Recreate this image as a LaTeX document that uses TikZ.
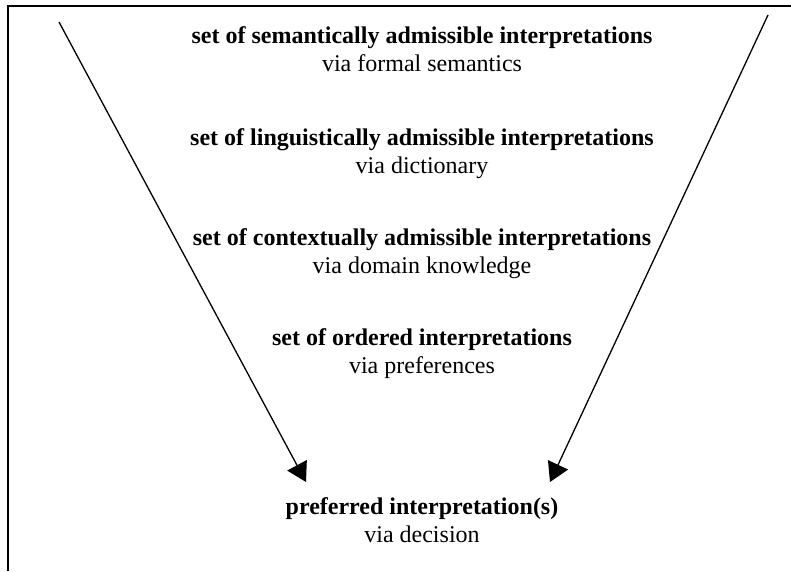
\documentclass[tikz,border=0pt]{standalone}
\usepackage{fontspec}
\setmainfont{Liberation Serif}
\usetikzlibrary{positioning,arrows.meta}

\tikzset{
  settext/.style={anchor=base, inner sep=0pt, font=\fontsize{24}{28}\selectfont\bfseries},
  viatext/.style={anchor=base, inner sep=0pt, font=\fontsize{24}{28}\selectfont},
  funnel/.style={-{Triangle[length=19pt,width=22pt]}, line width=1.3pt},
}

\begin{document}
\begin{tikzpicture}[x=1pt,y=-1pt]
	\useasboundingbox (0,0) rectangle (791,571);
	\draw[line width=2pt] (8,571) -- (8,5.5) -- (791,5.5);

	\node[settext] (semantic) at (422,43) {set of semantically admissible interpretations};
	\node[viatext] (semanticVia) at ([yshift=-28pt]semantic.base) {via formal semantics};
	\node[settext] (linguistic) at (422,145) {set of linguistically admissible interpretations};
	\node[viatext] (linguisticVia) at ([yshift=-28pt]linguistic.base) {via dictionary};
	\node[settext] (contextual) at (422,245) {set of contextually admissible interpretations};
	\node[viatext] (contextualVia) at ([yshift=-28pt]contextual.base) {via domain knowledge};
	\node[settext] (ordered) at (422,345) {set of ordered interpretations};
	\node[viatext] (orderedVia) at ([yshift=-28pt]ordered.base) {via preferences};
	\node[settext] (preferred) at (422,514) {preferred interpretation(s)};
	\node[viatext] (preferredVia) at ([yshift=-28pt]preferred.base) {via decision};

	\coordinate (leftTop) at (59,22);
	\coordinate (leftTip) at (306,482);
	\coordinate (rightTop) at (768,15);
	\coordinate (rightTip) at (550,482);

	\draw[funnel] (leftTop) -- (leftTip);
	\draw[funnel] (rightTop) -- (rightTip);
\end{tikzpicture}
\end{document}
